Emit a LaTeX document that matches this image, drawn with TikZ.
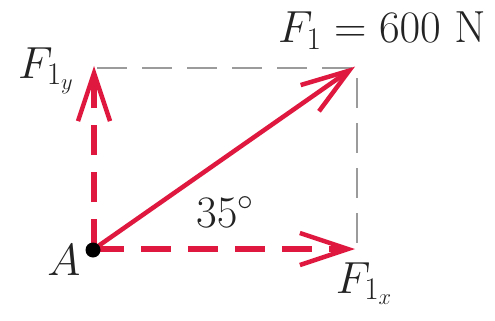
\documentclass[tikz,border=0pt]{standalone}
\usepackage{fix-cm}
\usetikzlibrary{arrows.meta}
\definecolor{vecred}{RGB}{222,24,62}
\definecolor{guidegray}{RGB}{155,155,155}
\definecolor{txt}{RGB}{35,35,35}
\begin{document}
\begin{tikzpicture}[x=1pt,y=-1pt,
  lbl/.style={inner sep=0pt,text=txt,font=\fontsize{45}{50}\selectfont},
  guide/.style={guidegray,line width=1.6pt,dash pattern=on 30pt off 15pt},
  barb/.style={-{Straight Barb[length=48pt,width=32pt,line width=4.5pt]}},
  comp/.style={vecred,line width=6.5pt,dash pattern=on 30pt off 17pt,barb},
  res/.style={vecred,line width=4.5pt,barb}]
\useasboundingbox (0,0) rectangle (495,321);
\coordinate (A) at (94,249);
\coordinate (TL) at (94,68);
\coordinate (TR) at (357,68);
\coordinate (BR) at (357,249);
\draw[guide] (97,68) coordinate (G0) -- (TR) -- (BR);
\draw[comp] (A) -- ([xshift=-2pt]BR);
\draw[comp] (A) -- ([yshift=2pt]TL);
\draw[res] (A) -- ([xshift=-2pt,yshift=1.4pt]TR);
\node[circle,fill=black,inner sep=0pt,minimum size=15pt] (dot) at (93,250) {};
\node[lbl,anchor=base] (f1) at (382,43) {$F_1 = 600\ \mathrm{N}$};
\node[lbl,anchor=base] (f1y) at (46,78) {$F_{1_y}$};
\node[lbl,anchor=base] (a) at (64,275) {$A$};
\node[lbl,anchor=base] (ang) at (225,227) {$35^\circ$};
\node[lbl,anchor=base] (f1x) at (364,293) {$F_{1_x}$};
\end{tikzpicture}
\end{document}
